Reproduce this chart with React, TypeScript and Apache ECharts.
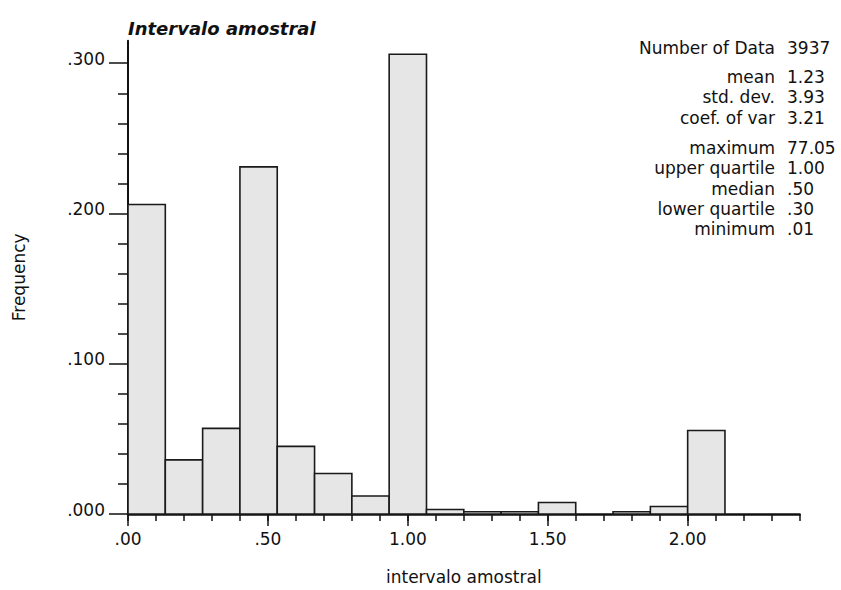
import React, { useEffect, useRef } from "react";
import * as echarts from "echarts";

// Histogram bins (class edges) and relative frequencies
const binLower = [0, 0.1333, 0.2667, 0.4, 0.5333, 0.6667, 0.8, 0.9333, 1.0667, 1.2, 1.3333, 1.4667, 1.6, 1.7333, 1.8667, 2.0, 2.1333, 2.2667];
const binUpper = [0.1333, 0.2667, 0.4, 0.5333, 0.6667, 0.8, 0.9333, 1.0667, 1.2, 1.3333, 1.4667, 1.6, 1.7333, 1.8667, 2.0, 2.1333, 2.2667, 2.4];
const frequency = [0.206, 0.036, 0.057, 0.231, 0.045, 0.027, 0.012, 0.306, 0.003, 0.0015, 0.0015, 0.0077, 0, 0.0015, 0.005, 0.0556, 0, 0];

const xMajorTicks = [0, 0.5, 1.0, 1.5, 2.0];
const yMajorTicks = [0, 0.1, 0.2, 0.3];

const titleText = "Intervalo amostral";
const xName = "intervalo amostral";
const yName = "Frequency";

// Summary statistics, grouped as in the report
const statGroup1Labels = ["Number of Data"];
const statGroup1Values = ["3937"];
const statGroup2Labels = ["mean", "std. dev.", "coef. of var"];
const statGroup2Values = ["1.23", "3.93", "3.21"];
const statGroup3Labels = ["maximum", "upper quartile", "median", "lower quartile", "minimum"];
const statGroup3Values = ["77.05", "1.00", ".50", ".30", ".01"];

const FONT = "'DejaVu Sans', 'Liberation Sans', Arial, sans-serif";
const INK = "#111111";

export default function App() {
  const ref = useRef<HTMLDivElement>(null);

  useEffect(() => {
    if (!ref.current) return;
    const chart = echarts.init(ref.current, undefined, { renderer: "svg" });

    const data = binLower.map((lo, i) => [lo, binUpper[i], frequency[i]]);

    const groups = [
      { labels: statGroup1Labels, values: statGroup1Values, top: 48 },
      { labels: statGroup2Labels, values: statGroup2Values, top: 77 },
      { labels: statGroup3Labels, values: statGroup3Values, top: 148 },
    ];
    const statElements: any[] = [];
    groups.forEach((g) => {
      g.labels.forEach((lab, i) => {
        const y = g.top + i * 20.3;
        statElements.push({
          type: "text",
          x: 775,
          y,
          style: {
            text: lab,
            fill: INK,
            fontSize: 17,
            fontFamily: FONT,
            align: "right",
            verticalAlign: "middle",
            textAlign: "right",
            textVerticalAlign: "middle",
          },
        });
        statElements.push({
          type: "text",
          x: 787,
          y,
          style: {
            text: g.values[i],
            fill: INK,
            fontSize: 17,
            fontFamily: FONT,
            align: "left",
            verticalAlign: "middle",
            textAlign: "left",
            textVerticalAlign: "middle",
          },
        });
      });
    });

    const option: any = {
      animation: false,
      backgroundColor: "#ffffff",
      title: {
        text: titleText,
        left: 128,
        top: 19,
        padding: 0,
        textStyle: {
          fontFamily: FONT,
          fontWeight: "bold",
          fontStyle: "italic",
          fontSize: 18,
          color: INK,
        },
      },
      grid: { left: 128, right: 41.4, top: 40.7, bottom: 75, containLabel: false },
      xAxis: [
        {
          type: "value",
          min: 0,
          max: 2.4,
          interval: 0.5,
          position: "bottom",
          axisLine: { show: true, onZero: false, lineStyle: { color: INK, width: 2.5 } },
          axisTick: { show: true, length: 12, customValues: xMajorTicks, lineStyle: { color: INK, width: 1.5 } },
          minorTick: { show: false },
          axisLabel: {
            customValues: xMajorTicks,
            formatter: (v: number) => v.toFixed(2).replace(/^0/, ""),
            margin: 16,
            fontSize: 17,
            fontFamily: FONT,
            color: INK,
          },
          splitLine: { show: false },
          name: xName,
          nameLocation: "middle",
          nameGap: 54,
          nameTextStyle: { fontSize: 17, fontFamily: FONT, color: INK },
        },
        {
          type: "value",
          min: 0,
          max: 2.4,
          interval: 0.1,
          position: "bottom",
          axisLine: { show: false, onZero: false },
          axisTick: { show: true, length: 7, lineStyle: { color: INK, width: 1.5 } },
          axisLabel: { show: false },
          splitLine: { show: false },
        },
      ],
      yAxis: {
        type: "value",
        min: 0,
        max: 0.315,
        interval: 0.1,
        axisLine: { show: true, onZero: false, lineStyle: { color: INK, width: 2 } },
        axisTick: { show: true, length: 19, customValues: yMajorTicks, lineStyle: { color: INK, width: 1.5 } },
        minorTick: { show: true, splitNumber: 5, length: 10, lineStyle: { color: INK, width: 1.5 } },
        axisLabel: {
          customValues: yMajorTicks,
          formatter: (v: number) => v.toFixed(3).replace(/^0/, ""),
          margin: 23,
          verticalAlign: "bottom",
          lineHeight: 9,
          fontSize: 17,
          fontFamily: FONT,
          color: INK,
        },
        splitLine: { show: false },
        name: yName,
        nameLocation: "middle",
        nameGap: 101,
        nameTextStyle: { fontSize: 17, fontFamily: FONT, color: INK },
      },
      graphic: statElements,
      series: [
        {
          type: "custom",
          xAxisIndex: 0,
          yAxisIndex: 0,
          data,
          renderItem: (params: any, api: any) => {
            const lo = api.value(0);
            const hi = api.value(1);
            const f = api.value(2);
            if (!(f > 0)) return null;
            const p0 = api.coord([lo, 0]);
            const p1 = api.coord([hi, f]);
            return {
              type: "rect",
              shape: { x: p0[0], y: p1[1], width: p1[0] - p0[0], height: p0[1] - p1[1] },
              style: { fill: "#e6e6e6", stroke: "#1a1a1a", lineWidth: 1.6 },
            };
          },
        },
      ],
    };

    chart.setOption(option);
    return () => chart.dispose();
  }, []);

  return (
    <div
      ref={ref}
      style={{ position: "fixed", left: 0, top: 0, width: 841, height: 590, background: "#fff" }}
    />
  );
}
